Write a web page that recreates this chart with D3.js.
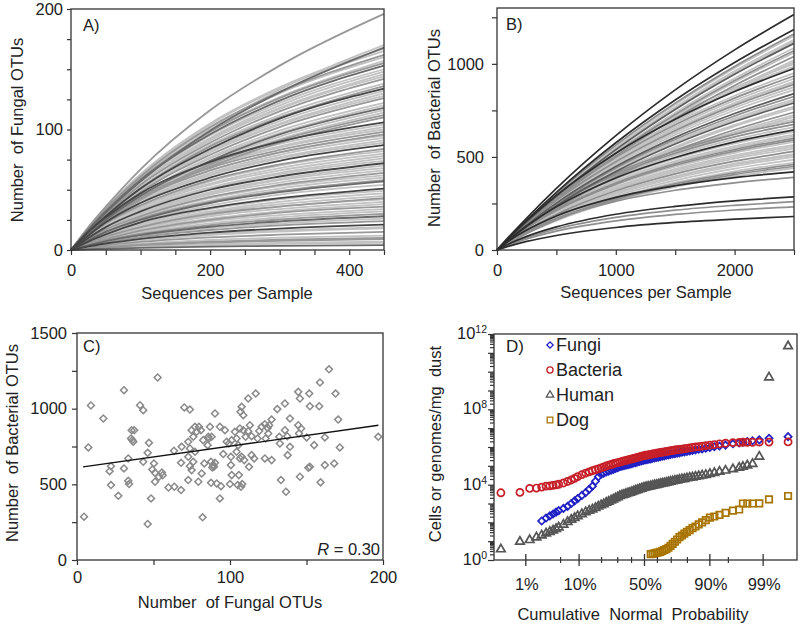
<!DOCTYPE html>
<html><head><meta charset="utf-8">
<script src="https://cdn.jsdelivr.net/npm/d3@7"></script>
<style>body{margin:0;background:#fff}svg{display:block}</style>
</head><body>
<svg id="c" width="800" height="624"></svg>
<script>
// ---------------- Panel A: fungal rarefaction curves ----------------
const fungalDepth = [0, 25, 50, 100, 200, 300, 450];
const fungalOTUCurves = [
 [0,18,34,60,101,130,160],[0,16,30,54,91,117,144],[0,14,27,48,81,104,128],[0,13,24,44,73,94,116],
 [0,14,26,44,69,85,100],[0,13,24,41,64,79,93],[0,12,21,36,57,70,82],[0,11,20,35,54,66,78],
 [0,10,18,31,48,59,70],[0,9,17,29,46,56,66],[0,9,16,28,43,53,62],[0,7,13,22,34,42,49],
 [0,6,12,20,31,38,45],[0,5,10,17,26,32,38],[0,5,9,15,24,29,34],[0,4,7,12,18,22,26],
 [0,18.5,35,63,105,135,167],[0,17,33,59,98,126,155],[0,16,31,56,93,120,148],[0,15,29,51,86,110,136],
 [0,15,28,50,83,107,132],[0,13,25,45,76,97,120],[0,12,24,42,71,91,112],[0,15,27,46,72,88,104],
 [0,14,25,43,66,81,96],[0,13,23,40,62,76,89],[0,10,19,33,51,63,74],[0,8,15,26,40,49,58],
 [0,6,11,19,29,36,42],[0,4.2,7.8,13.3,20.7,25.4,30],[0,2.7,4.9,8.4,13.1,16.1,19],[0,1.4,2.6,4.4,6.9,8.5,10],
 [0,1,1.8,3.1,4.8,5.9,7],
 [0,19,36,67,116,153,196],[0,16,31,58,100,133,170],[0,16,31,57,99,131,168],[0,18,35,62,104,134,165],
 [0,18,34,61,102,131,162],[0,17,33,59,99,127,157],[0,17,32,58,96,124,153],[0,17,32,57,95,122,150],
 [0,16,31,55,92,118,146],[0,16,30,54,89,115,142],[0,15,29,52,87,112,138],[0,15,28,51,84,109,134],
 [0,14,27,49,82,105,130],[0,14,26,48,79,102,126],[0,14,26,46,77,99,122],[0,13,25,45,74,96,118],
 [0,13,24,43,72,92,114],[0,12,23,42,69,89,110],[0,15,27,47,73,90,106],[0,14,26,45,70,86,102],
 [0,14,25,44,68,83,98],[0,13,25,42,66,81,95],[0,13,24,40,63,77,91],[0,12,23,39,60,74,87],
 [0,12,22,37,58,71,84],[0,11,21,36,55,68,80],[0,11,20,34,52,64,76],[0,10,19,32,50,61,72],
 [0,10,18,30,47,58,68],[0,9,17,28,44,54,64],[0,8,16,27,41,51,60],[0,8,15,25,39,48,57],
 [0,8,14,24,37,46,54],[0,7,13,23,35,43,51],[0,7,12,21,32,40,47],[0,6,11,19,30,36,43],
 [0,6,10,18,28,34,40],[0,5,9,16,25,31,36],[0,4.5,8.3,14.2,22.1,27.1,32],[0,3.9,7.3,12.4,19.3,23.7,28],
 [0,3.4,6.2,10.7,16.6,20.4,24],[0,3,5.4,9.3,14.5,17.8,21],[0,2.5,4.7,8,12.4,15.3,18],[0,2.1,3.9,6.7,10.4,12.7,15],
 [0,1.7,3.1,5.3,8.3,10.2,12],[0,1.3,2.3,4,6.2,7.6,9],[0,0.8,1.6,2.7,4.1,5.1,6],[0,0.6,1,1.8,2.8,3.4,4]
];
const fungalSampleGroup = [
 1,1,1,1,1,1,1,1,1,1,1,1,1,1,1,1,
 1,2,1,2,1,1,2,1,2,1,1,2,1,2,1,2,1,
 2,1,3,1,2,1,3,1,1,2,1,4,1,2,1,3,
 1,2,4,1,2,1,1,4,2,1,1,4,1,2,1,3,
 1,4,1,2,1,2,1,3,2,4,1,2,1,2,1,3
];

// ---------------- Panel B: bacterial rarefaction curves ----------------
const bacterialDepth = [0, 125, 250, 500, 1000, 1500, 2000, 2500];
const bacterialOTUCurves = [
 [0,78,152,293,544,762,952,1120],[0,83,160,300,533,720,873,1000],[0,75,144,270,480,648,786,900],
 [0,63,122,228,405,547,664,760],[0,74,140,252,420,540,630,700],[0,60,113,203,339,436,509,565],
 [0,55,103,185,309,397,464,515],[0,51,97,175,291,374,437,485],
 [0,80,156,301,559,782,978,1150],[0,74,146,280,520,728,910,1070],[0,71,139,267,495,694,867,1020],
 [0,82,158,296,525,709,860,985],[0,77,150,281,498,673,816,935],[0,75,145,272,482,652,790,905],
 [0,72,140,263,466,630,764,875],[0,68,132,248,440,594,720,825],[0,66,128,240,426,576,698,800],
 [0,60,116,218,386,522,633,725],[0,71,135,243,405,520,608,675],[0,67,127,229,381,490,572,635],
 [0,65,122,220,366,470,549,610],[0,62,118,212,354,455,531,590],[0,58,109,196,327,420,491,545],
 [0,54,102,184,306,393,459,510],[0,49,92,166,276,355,414,460],[0,47,88,158,264,339,396,440],
 [0,88,172,331,614,860,1075,1265],[0,82,161,310,576,806,1007,1185],[0,81,158,303,563,789,986,1160],
 [0,78,154,296,549,768,961,1130],[0,77,151,290,539,755,944,1110],[0,75,148,284,527,738,922,1085],
 [0,74,144,277,515,721,901,1060],[0,72,141,272,505,707,884,1040],[0,70,137,264,491,687,859,1010],
 [0,81,156,293,520,702,851,975],[0,79,152,285,506,684,829,950],[0,76,147,276,490,662,803,920],
 [0,74,142,267,474,641,777,890],[0,71,138,258,458,619,751,860],[0,70,134,252,448,605,733,840],
 [0,67,130,243,432,583,707,810],[0,65,126,237,421,569,690,790],[0,64,123,231,410,554,672,770],
 [0,61,118,222,394,533,646,740],[0,59,114,215,381,515,624,715],[0,73,138,248,414,532,621,690],
 [0,70,132,238,396,509,594,660],[0,68,129,232,387,497,581,645],[0,66,124,223,372,478,558,620],
 [0,64,120,216,360,463,540,600],[0,61,116,209,348,447,522,580],[0,59,111,200,333,428,500,555],
 [0,56,106,191,318,409,477,530],[0,53,100,180,300,386,450,500],[0,50,94,169,282,362,423,470],
 [0,48,90,162,270,347,405,450],[0,59,107,183,283,345,389,420],[0,54,99,170,262,321,361,390],
 [0,40,73,124,192,234,264,285],[0,36,66,113,175,214,240,260],[0,32,59,101,156,191,215,232],
 [0,25,46,78,121,148,166,180]
];
const bacterialSampleGroup = [
 1,1,1,1,1,1,1,1,
 1,2,1,1,2,1,1,2,1,1,2,1,1,2,1,1,2,1,
 4,4,2,1,3,1,1,2,1,
 4,1,1,2,1,3,1,3,1,2,1,2,
 1,4,1,2,1,1,2,1,1,2,4,2,
 4,2,2,4
];

// ---------------- Panel C: fungal vs bacterial OTUs ----------------
const fungalOTUs = [4.6,7.4,9.1,17.2,21.3,22.2,22.2,27,30.7,30.7,33.5,33.5,34,35.7,37.4,35.3,36.2,36.8,41.2,43.3,43.3,47,46.2,48.4,46.2,50.3,49.2,51,52.7,51,53.5,56,55.5,59.8,63.6,63.4,68,68,70.1,73.8,68.4,72.7,74.9,77.1,79.7,78.2,81,76,73.8,72.7,77.1,76,73.8,74.9,72.7,79.3,81.5,83.2,82.5,85.4,86.9,85.8,88,86.2,90.2,93.4,87.6,89.1,90.2,88.4,89.5,91.3,94.1,93.4,82.1,87.6,95.6,96.7,99.3,100.6,
 164.7,158.8,169,144.6,145.7,151.8,152.2,158.3,135.9,130.9,139.2,144.6,145.1,150.1,155,162,170.7,171.8,196.9,116.8,111.9,107.6,106.9,108.7,135.9,137.4,132.2,127.2,124.6,122.8,125.6,118,120.7,119.1,114.1,111.9,113,108.7,106.5,103.2,104.3,101.1,97.8,105.4,110.2,123.3,125,132.6,139.2,137.7,104.3,100.6,107.6,114.1,112.4,106.5,109.3,115.8,122.8,127.2,101.1,105.8,105,108,107.2,100,133.3,136.6,145.7,151.2,159.2,162,168.1,152.2,146.5];
const bacterialOTUs = [286,744,1021,935,587,620,495,424,1122,605,671,523,502,858,858,803,792,781,1023,990,649,774,708,407,238,638,598,576,1206,517,550,560,578,479,484,722,642,462,1008,994,748,781,858,880,880,847,858,814,737,682,715,649,620,594,528,517,572,638,792,759,880,814,814,803,968,880,649,627,642,612,616,506,488,407,282,510,700,858,770,627,
 1260,1173,1100,1111,1067,1100,1016,1016,1034,997,935,891,836,810,759,810,928,744,814,1100,1067,1012,979,957,858,818,814,928,873,897,891,803,880,853,818,851,891,858,869,847,803,792,781,759,814,803,836,770,748,693,715,682,682,693,616,671,660,671,671,660,561,561,495,502,484,502,528,451,550,609,513,627,638,616,869];
const fitFungal = [4, 197];
const fitBacterial = [615, 890];
const correlationLabel = "0.30";

// ---------------- Panel D: probability plot ----------------
const sampleCount = 205;
const probRanks = [1,2,3,4,5,6,7,8,9,10,12,14,16,18,20,23,26,29,32,35,38,41,44,47,50,53,56,59,62,65,68,71,74,77,80,83,86,89,92,95,98,101,104,107,110,113,116,119,122,125,128,131,134,137,140,143,146,149,152,155,158,161,164,167,170,173,176,179,182,185,188,191,194,197,199,200,201,202,203,204,205];
const bacteriaLog10 = [3.57,3.59,3.80,3.82,3.87,3.92,3.94,3.96,3.99,4.02,
 4.09,4.17,4.25,4.33,4.43,
 4.53,4.61,4.68,4.74,4.79,4.84,4.89,4.94,4.99,5.04,
 5.07,5.11,5.14,5.17,5.20,5.23,5.26,5.29,5.31,5.34,
 5.37,5.40,5.42,5.45,5.48,5.51,5.53,5.56,5.57,5.59,
 5.61,5.63,5.65,5.67,5.69,5.71,5.72,5.74,5.76,5.78,
 5.80,5.82,5.84,5.86,5.87,5.89,5.91,5.93,5.95,5.98,
 6.00,6.02,6.05,6.07,6.10,6.13,6.17,6.20,6.23,
 6.24,6.25,6.25,6.25,6.26,6.26,6.27];
const fungiLog10 = [null,null,null,null,2.07,2.23,2.34,2.44,2.54,2.62,
 2.74,2.85,3.00,3.14,3.26,
 3.43,3.58,3.75,3.92,4.18,4.42,4.55,4.61,4.67,4.72,
 4.77,4.81,4.86,4.90,4.95,4.98,5.01,5.04,5.06,5.09,
 5.12,5.15,5.17,5.20,5.23,5.26,5.28,5.31,5.33,5.35,
 5.37,5.40,5.42,5.44,5.46,5.49,5.51,5.53,5.56,5.58,
 5.61,5.63,5.65,5.67,5.69,5.72,5.74,5.77,5.79,5.82,
 5.85,5.88,5.90,5.94,5.97,6.01,6.05,6.10,6.17,
 6.22,6.25,6.29,6.33,6.38,6.46,6.55];
const humanLog10 = [0.57,0.97,1.06,1.20,1.31,1.41,1.49,1.57,1.65,1.73,
 1.88,2.02,2.14,2.24,2.33,
 2.44,2.54,2.62,2.69,2.77,2.84,2.91,2.97,3.04,3.10,
 3.16,3.22,3.28,3.34,3.40,3.44,3.47,3.51,3.55,3.58,
 3.62,3.65,3.69,3.72,3.76,3.79,3.83,3.86,3.88,3.90,
 3.92,3.95,3.97,3.99,4.01,4.04,4.06,4.08,4.11,4.13,
 4.16,4.18,4.21,4.23,4.26,4.29,4.31,4.34,4.37,4.39,
 4.42,4.45,4.49,4.52,4.57,4.62,4.69,4.75,4.82,
 4.90,4.95,5.02,5.10,5.49,9.70,11.35];
const dogLog10 = [null,null,null,null,null,null,null,null,null,null,
 null,null,null,null,null,
 null,null,null,null,null,null,null,null,null,null,
 null,null,null,null,null,null,null,null,null,null,
 null,null,null,null,null,null,null,null,null,null,
 0.31,0.33,0.36,0.38,0.40,0.43,0.48,0.53,0.58,0.65,
 0.75,0.86,0.97,1.09,1.21,1.30,1.40,1.49,1.59,1.69,
 1.78,1.89,2.00,2.12,2.25,2.31,2.40,2.50,2.62,
 2.68,3.00,3.00,3.00,3.01,3.22,3.40];
const legendNames = ["Fungi", "Bacteria", "Human", "Dog"];

// tick labels
const seqTicksA = [0, 200, 400];
const otuTicksA = [0, 100, 200];
const seqTicksB = [0, 1000, 2000];
const otuTicksB = [0, 500, 1000];
const fungalTicksC = [0, 100, 200];
const bactTicksC = [0, 500, 1000, 1500];
const cellExponentsD = [0, 4, 8, 12];
const probTicksD = [0.01, 0.1, 0.5, 0.9, 0.99];
const probLabelsD = ["1%", "10%", "50%", "90%", "99%"];
const probMinorD = [0.05, 0.2, 0.3, 0.4, 0.6, 0.7, 0.8, 0.95];

// ==================== drawing ====================
const FONT = '"Liberation Sans", Arial, Helvetica, sans-serif';
const INK = '#222';
const AX = '#333';
const TITLE = 16.5;
const svg = d3.select('#c');

function frame(x, y) {
  const [x0, x1] = x.range(), [y0, y1] = y.range();
  svg.append('rect').attr('x', x0).attr('y', Math.min(y0, y1))
    .attr('width', x1 - x0).attr('height', Math.abs(y0 - y1))
    .attr('fill', 'none').attr('stroke', AX).attr('stroke-width', 1.3);
}
function styleAxis(g, fs) {
  g.select('.domain').remove();
  g.selectAll('line').attr('stroke', AX).attr('stroke-width', 1.2);
  g.selectAll('text').attr('font-family', FONT).attr('font-size', fs).attr('fill', INK);
}
function txt(x, y, s, opts = {}) {
  const t = svg.append('text').attr('x', x).attr('y', y).text(s)
    .attr('font-family', FONT).attr('font-size', opts.fs || 16).attr('fill', INK)
    .attr('text-anchor', opts.anchor || 'start').style('white-space', 'pre');
  if (opts.rot) t.attr('transform', `rotate(-90,${x},${y})`);
  return t;
}
function axesXY(x, y, xMajor, xMinorStep, yMajor, yMinorStep, opt) {
  const [x0] = x.range(), [y0] = y.range();
  const xd = x.domain(), yd = y.domain();
  const gx = svg.append('g').attr('transform', `translate(0,${y0})`)
    .call(d3.axisBottom(x).tickValues(d3.range(xd[0], xd[1] + 1e-9, xMinorStep))
      .tickFormat(d => xMajor.includes(d) ? d : '').tickSize(5).tickPadding(opt.xpad).tickSizeOuter(0));
  styleAxis(gx, 16.5);
  const gy = svg.append('g').attr('transform', `translate(${x0},0)`)
    .call(d3.axisLeft(y).tickValues(d3.range(yd[0], yd[1] + 1e-9, yMinorStep))
      .tickFormat(d => yMajor.includes(d) ? d : '').tickSize(opt.ytick).tickPadding(opt.ypad).tickSizeOuter(0));
  styleAxis(gy, 16.5);
}

// ---- Panel A ----
const xA = d3.scaleLinear().domain([0, 450]).range([71, 384]);
const yA = d3.scaleLinear().domain([0, 200]).range([250, 9]);
const toneA = {1: '#c2c2c2', 2: '#989898', 3: '#6a6a6a', 4: '#454545'};
const lineA = d3.line().x((d, i) => xA(fungalDepth[i])).y(d => yA(d)).curve(d3.curveMonotoneX);
const curvesA = fungalOTUCurves.map((v, i) => ({v, g: fungalSampleGroup[i]})).sort((a, b) => a.g - b.g);
svg.append('g').selectAll('path').data(curvesA).join('path')
  .attr('d', d => lineA(d.v)).attr('fill', 'none').attr('stroke', d => toneA[d.g]).attr('stroke-width', 1.8);
frame(xA, yA);
axesXY(xA, yA, seqTicksA, 50, otuTicksA, 25, {xpad: 9, ytick: 4, ypad: 4});
txt(83, 31, 'A)', {fs: TITLE});
txt(227, 299, 'Sequences per Sample', {anchor: 'middle', fs: TITLE});
txt(23, 130, 'Number  of Fungal OTUs', {anchor: 'middle', rot: true, fs: TITLE});

// ---- Panel B ----
const xB = d3.scaleLinear().domain([0, 2500]).range([497, 794]);
const yB = d3.scaleLinear().domain([0, 1300]).range([250, 8]);
const toneB = {1: '#c2c2c2', 2: '#8f8f8f', 3: '#5d5d5d', 4: '#2c2c2c'};
const lineB = d3.line().x((d, i) => xB(bacterialDepth[i])).y(d => yB(d)).curve(d3.curveMonotoneX);
const curvesB = bacterialOTUCurves.map((v, i) => ({v, g: bacterialSampleGroup[i]})).sort((a, b) => a.g - b.g);
svg.append('g').selectAll('path').data(curvesB).join('path')
  .attr('d', d => lineB(d.v)).attr('fill', 'none').attr('stroke', d => toneB[d.g]).attr('stroke-width', 1.7);
frame(xB, yB);
axesXY(xB, yB, seqTicksB, 500, otuTicksB, 250, {xpad: 9, ytick: 5, ypad: 8});
txt(506, 30, 'B)', {fs: TITLE});
txt(646, 298, 'Sequences per Sample', {anchor: 'middle', fs: TITLE});
txt(440, 128, 'Number  of Bacterial OTUs', {anchor: 'middle', rot: true, fs: TITLE});

// ---- Panel C ----
const xC = d3.scaleLinear().domain([0, 200]).range([77, 383]);
const yC = d3.scaleLinear().domain([0, 1500]).range([560, 333]);
const diamond = d3.symbol(d3.symbolSquare, 24)();
svg.append('g').selectAll('path').data(fungalOTUs.map((f, i) => [f, bacterialOTUs[i]])).join('path')
  .attr('d', diamond).attr('transform', d => `translate(${xC(d[0])},${yC(d[1])}) rotate(45)`)
  .attr('fill', 'none').attr('stroke', '#8a8a8a').attr('stroke-width', 1.5);
svg.append('line').attr('x1', xC(fitFungal[0])).attr('y1', yC(fitBacterial[0]))
  .attr('x2', xC(fitFungal[1])).attr('y2', yC(fitBacterial[1])).attr('stroke', '#111').attr('stroke-width', 1.4);
frame(xC, yC);
axesXY(xC, yC, fungalTicksC, 50, bactTicksC, 250, {xpad: 6, ytick: 5, ypad: 5});
txt(83, 352, 'C)', {fs: TITLE});
const rt = txt(380, 555, '', {anchor: 'end', fs: 16.5});
rt.append('tspan').attr('font-style', 'italic').text('R');
rt.append('tspan').text(' = ' + correlationLabel);
txt(230, 608, 'Number  of Fungal OTUs', {anchor: 'middle', fs: TITLE});
txt(18, 443, 'Number  of Bacterial OTUs', {anchor: 'middle', rot: true, fs: TITLE});

// ---- Panel D ----
function probit(p) {
  const a = [-3.969683028665376e+01, 2.209460984245205e+02, -2.759285104469687e+02, 1.383577518672690e+02, -3.066479806614716e+01, 2.506628277459239e+00];
  const b = [-5.447609879822406e+01, 1.615858368580409e+02, -1.556989798598866e+02, 6.680131188771972e+01, -1.328068155288572e+01];
  const c = [-7.784894002430293e-03, -3.223964580411365e-01, -2.400758277161838e+00, -2.549732539343734e+00, 4.374664141464968e+00, 2.938163982698783e+00];
  const d = [7.784695709041462e-03, 3.224671290700398e-01, 2.445134137142996e+00, 3.754408661907416e+00];
  const pl = 0.02425;
  let q, r;
  if (p < pl) { q = Math.sqrt(-2 * Math.log(p)); return (((((c[0]*q+c[1])*q+c[2])*q+c[3])*q+c[4])*q+c[5]) / ((((d[0]*q+d[1])*q+d[2])*q+d[3])*q+1); }
  if (p <= 1 - pl) { q = p - 0.5; r = q*q; return (((((a[0]*r+a[1])*r+a[2])*r+a[3])*r+a[4])*r+a[5])*q / (((((b[0]*r+b[1])*r+b[2])*r+b[3])*r+b[4])*r+1); }
  q = Math.sqrt(-2 * Math.log(1 - p)); return -(((((c[0]*q+c[1])*q+c[2])*q+c[3])*q+c[4])*q+c[5]) / ((((d[0]*q+d[1])*q+d[2])*q+d[3])*q+1);
}
const xD = d3.scaleLinear().domain([-2.95, 2.99]).range([494, 797]);
const yD = d3.scaleLog().domain([1, 1e12]).range([560, 334]);
const seriesD = {
  Human:    {vals: humanLog10,    sym: d3.symbolTriangle, size: 32, rot: 0,  color: '#555555'},
  Dog:      {vals: dogLog10,      sym: d3.symbolSquare,   size: 42, rot: 0,  color: '#a87400'},
  Fungi:    {vals: fungiLog10,    sym: d3.symbolSquare,   size: 26, rot: 45, color: '#2020c4'},
  Bacteria: {vals: bacteriaLog10, sym: d3.symbolCircle,   size: 40, rot: 0,  color: '#c61f28'}
};
['Human', 'Dog', 'Fungi', 'Bacteria'].forEach(k => {
  const s = seriesD[k];
  const pts = probRanks.map((r, i) => ({z: probit((r - 0.5) / sampleCount), v: s.vals[i]})).filter(d => d.v != null);
  svg.append('g').selectAll('path').data(pts).join('path')
    .attr('d', d3.symbol(s.sym, s.size)())
    .attr('transform', d => `translate(${xD(d.z)},${yD(Math.pow(10, d.v))})` + (s.rot ? ' rotate(45)' : ''))
    .attr('fill', 'none').attr('stroke', s.color).attr('stroke-width', 1.7);
});
frame(xD, yD);
const decades = d3.range(0, 13).map(e => Math.pow(10, e));
const minorDec = d3.range(0, 12).flatMap(e => d3.range(2, 10).map(m => m * Math.pow(10, e)));
const gyD1 = svg.append('g').attr('transform', 'translate(494,0)')
  .call(d3.axisLeft(yD).tickValues(decades).tickFormat('').tickSize(6).tickSizeOuter(0));
styleAxis(gyD1, 16);
const gyD2 = svg.append('g').attr('transform', 'translate(494,0)')
  .call(d3.axisLeft(yD).tickValues(minorDec).tickFormat('').tickSize(4).tickSizeOuter(0));
styleAxis(gyD2, 16);
cellExponentsD.forEach(e => {
  const t = txt(487, yD(Math.pow(10, e)) + 5, '', {anchor: 'end', fs: 16.5});
  t.append('tspan').text('10');
  t.append('tspan').attr('font-size', 10.5).attr('dy', -6).text(e);
});
const gxD = svg.append('g');
gxD.selectAll('line.maj').data(probTicksD).join('line').attr('class', 'maj')
  .attr('x1', d => xD(probit(d))).attr('x2', d => xD(probit(d))).attr('y1', 554).attr('y2', 566)
  .attr('stroke', AX).attr('stroke-width', 1.3);
gxD.selectAll('line.min').data(probMinorD).join('line').attr('class', 'min')
  .attr('x1', d => xD(probit(d))).attr('x2', d => xD(probit(d))).attr('y1', 557).attr('y2', 563)
  .attr('stroke', AX).attr('stroke-width', 1.2);
probTicksD.forEach((p, i) => txt(xD(probit(p)) + 1, 590, probLabelsD[i], {anchor: 'middle', fs: 16.5}));
txt(506, 352, 'D)', {fs: 17});
legendNames.forEach((n, i) => {
  const s = seriesD[n], ly = 345 + i * 25;
  svg.append('path').attr('d', d3.symbol(s.sym, s.size * 0.75)())
    .attr('transform', `translate(550,${ly})` + (s.rot ? ' rotate(45)' : ''))
    .attr('fill', 'none').attr('stroke', s.color).attr('stroke-width', 1.3);
  txt(556, ly + 6, n, {fs: 18});
});
txt(633, 620, 'Cumulative  Normal  Probability', {anchor: 'middle', fs: TITLE});
txt(441, 444, 'Cells or genomes/mg  dust', {anchor: 'middle', rot: true, fs: TITLE});
</script>
</body></html>
